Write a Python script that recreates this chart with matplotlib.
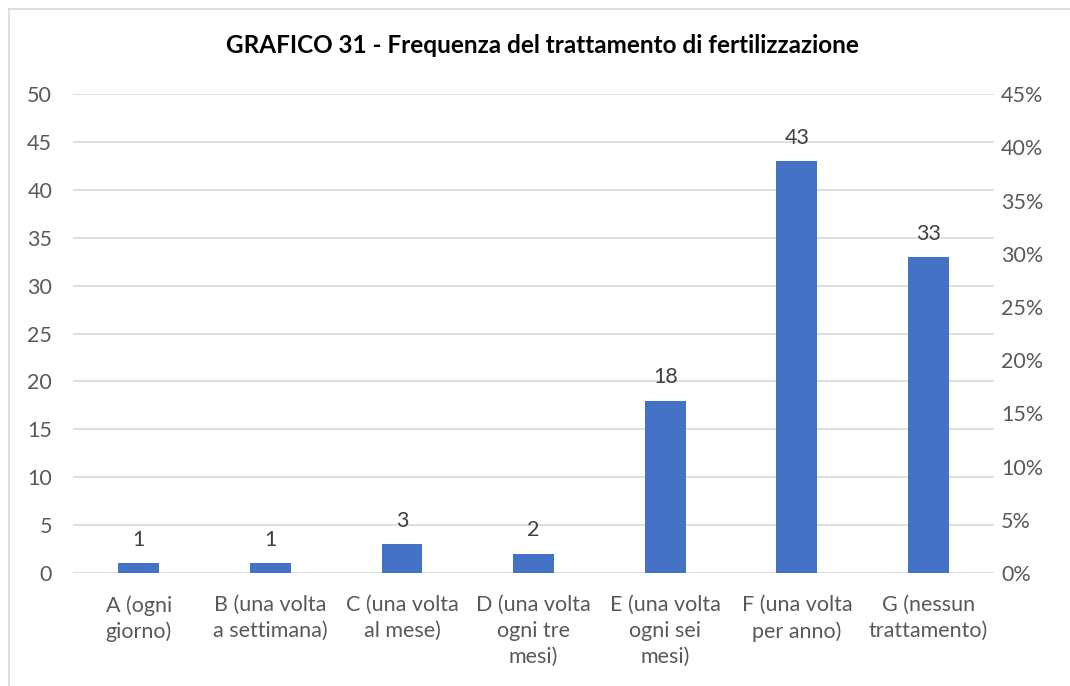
import matplotlib
matplotlib.use('Agg')
import matplotlib.pyplot as plt
from matplotlib.lines import Line2D
from matplotlib.ticker import FuncFormatter, MultipleLocator

categories = ['A (ogni\ngiorno)', 'B (una volta\na settimana)', 'C (una volta\nal mese)',
              'D (una volta\nogni tre\nmesi)', 'E (una volta\nogni sei\nmesi)',
              'F (una volta\nper anno)', 'G (nessun\ntrattamento)']
values = [1, 1, 3, 2, 18, 43, 33]
title = 'GRAFICO 31 - Frequenza del trattamento di fertilizzazione'

plt.rcParams['font.family'] = ['Lato', 'DejaVu Sans']
text_col = '#595959'
grid_col = '#d9d9d9'
bar_col = '#4472c4'
fs = 15.5

fig = plt.figure(figsize=(10.70, 6.86), dpi=100)
ax = fig.add_axes([0.0682, 0.1647, 0.861, 0.698])

x = range(len(categories))
ax.bar(x, values, width=0.31, color=bar_col, zorder=3)
for i, v in zip(x, values):
    ax.text(i, v + 1.4, str(v), ha='center', va='bottom', fontsize=fs, color='#404040')

ax.set_xlim(-0.5, len(categories) - 0.5)
ax.set_ylim(0, 50)
ax.yaxis.set_major_locator(MultipleLocator(5))
ax.set_xticks(list(x))
ax.set_xticklabels(categories, fontsize=fs, color=text_col, linespacing=1.35)
ax.tick_params(axis='x', length=0, pad=16)
ax.tick_params(axis='y', length=0, labelsize=fs, labelcolor=text_col, pad=15)
ax.grid(axis='y', color=grid_col, linewidth=1.2, zorder=0)
for s in ax.spines.values():
    s.set_visible(False)

ax2 = ax.twinx()
ax2.set_ylim(0, 0.45)
ax2.yaxis.set_major_locator(MultipleLocator(0.05))
ax2.yaxis.set_major_formatter(FuncFormatter(lambda v, p: f'{v * 100:.0f}%'))
ax2.tick_params(axis='y', length=0, labelsize=fs, labelcolor=text_col, pad=5)
for s in ax2.spines.values():
    s.set_visible(False)

fig.text(0.507, 0.934, title, ha='center', va='center', fontsize=17.5, fontweight='bold', color='black')

# cornice del grafico (solo bordo sinistro e superiore visibili)
fig.add_artist(Line2D([9 / 1070, 9 / 1070], [0, 1 - 9 / 686], color=grid_col, linewidth=1.2))
fig.add_artist(Line2D([9 / 1070, 1], [1 - 9 / 686, 1 - 9 / 686], color=grid_col, linewidth=1.2))

plt.savefig('out.png', dpi=100)
